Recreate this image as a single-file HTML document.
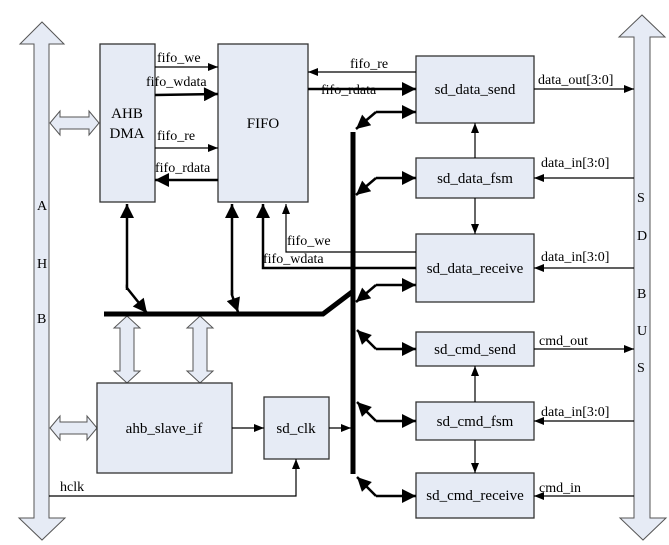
<!DOCTYPE html>
<html><head><meta charset="utf-8"><style>
html,body{margin:0;padding:0;background:#fff}
svg{display:block}
text{font-family:"Liberation Serif",serif;font-size:14px;fill:#000}
.bl{font-size:15px}
.bx{fill:#e6ebf5;stroke:#333;stroke-width:1.3}
.bus{fill:#e6ebf5;stroke:#555;stroke-width:1}
</style></head><body>
<svg width="669" height="545" viewBox="0 0 669 545" xmlns="http://www.w3.org/2000/svg">
<defs>
<marker id="a" viewBox="0 0 10 10" refX="10" refY="5" markerWidth="10" markerHeight="10" markerUnits="userSpaceOnUse" orient="auto"><path d="M0,1 L10,5 L0,9z" fill="#000"/></marker>
<marker id="b" viewBox="0 0 10 10" refX="10" refY="5" markerWidth="16" markerHeight="14" markerUnits="userSpaceOnUse" orient="auto"><path d="M0,0 L10,5 L0,10z" fill="#000"/></marker>
</defs>

<!-- AHB bus -->
<path class="bus" d="M34,44 L20,44 L42,22 L64,44 L49,44 L49,518 L65,518 L42,540 L19,518 L34,518z"/>
<text x="37" y="210">A</text><text x="37" y="268">H</text><text x="37" y="323">B</text>
<!-- SD bus -->
<path class="bus" d="M634,37 L619,37 L642,15 L665,37 L650,37 L650,518 L666,518 L643,540 L620,518 L634,518z"/>
<text x="637" y="202">S</text><text x="637" y="240">D</text><text x="637" y="298">B</text><text x="637" y="335">U</text><text x="637" y="372">S</text>

<!-- horizontal double arrows -->
<path class="bus" d="M50,123 L60,111 L60,117 L89,117 L89,111 L99,123 L89,135 L89,129 L60,129 L60,135z"/>
<path class="bus" d="M50,428 L60,416 L60,422 L87,422 L87,416 L97,428 L87,440 L87,434 L60,434 L60,440z"/>
<!-- vertical double arrows -->
<path class="bus" d="M127,316 L140,328 L134,328 L134,371 L140,371 L127,383 L114,371 L120,371 L120,328 L114,328z"/>
<path class="bus" d="M200,316 L213,328 L207,328 L207,371 L213,371 L200,383 L187,371 L193,371 L193,328 L187,328z"/>

<!-- boxes -->
<rect class="bx" x="100" y="44" width="55" height="158"/>
<text class="bl" x="127" y="118" text-anchor="middle">AHB</text>
<text class="bl" x="127" y="138" text-anchor="middle">DMA</text>
<rect class="bx" x="218" y="44" width="90" height="158"/>
<text class="bl" x="263" y="128" text-anchor="middle">FIFO</text>
<rect class="bx" x="416" y="56" width="118" height="67"/>
<text class="bl" x="475" y="94" text-anchor="middle">sd_data_send</text>
<rect class="bx" x="416" y="158" width="118" height="40"/>
<text class="bl" x="475" y="183" text-anchor="middle">sd_data_fsm</text>
<rect class="bx" x="416" y="234" width="118" height="68"/>
<text class="bl" x="475" y="273" text-anchor="middle">sd_data_receive</text>
<rect class="bx" x="416" y="332" width="118" height="34"/>
<text class="bl" x="475" y="354" text-anchor="middle">sd_cmd_send</text>
<rect class="bx" x="416" y="402" width="118" height="38"/>
<text class="bl" x="475" y="426" text-anchor="middle">sd_cmd_fsm</text>
<rect class="bx" x="416" y="473" width="118" height="45"/>
<text class="bl" x="475" y="500" text-anchor="middle">sd_cmd_receive</text>
<rect class="bx" x="97" y="383" width="135" height="90"/>
<text class="bl" x="164" y="433" text-anchor="middle">ahb_slave_if</text>
<rect class="bx" x="264" y="397" width="65" height="62"/>
<text class="bl" x="296" y="433" text-anchor="middle">sd_clk</text>

<!-- DMA <-> FIFO -->
<g stroke="#000" fill="none">
<line x1="155" y1="67" x2="218" y2="67" stroke-width="1.2" marker-end="url(#a)"/>
<line x1="155" y1="95" x2="218" y2="94" stroke-width="2.5" marker-end="url(#b)"/>
<line x1="155" y1="148" x2="218" y2="148" stroke-width="1.2" marker-end="url(#a)"/>
<line x1="218" y1="180" x2="155" y2="180" stroke-width="2.5" marker-end="url(#b)"/>
<!-- FIFO <-> send -->
<line x1="416" y1="72" x2="308" y2="72" stroke-width="1.2" marker-end="url(#a)"/>
<line x1="308" y1="89" x2="416" y2="89" stroke-width="2.5" marker-end="url(#b)"/>
<!-- receive -> FIFO -->
<polyline points="416,252 286,252 286,204" stroke-width="1.2" marker-end="url(#a)"/>
<polyline points="416,268 263,268 263,204" stroke-width="2.5" marker-end="url(#b)"/>
<!-- main buses -->
<polyline points="104,314 323,314 352,292" stroke-width="5"/>
<line x1="353" y1="132" x2="353" y2="474" stroke-width="5"/>
<!-- DMA bus link -->
<polyline points="127,290 127,288 147,313" stroke-width="2.5" marker-end="url(#b)"/>
<line x1="127" y1="288" x2="127" y2="204" stroke-width="2.5" marker-end="url(#b)"/>
<line x1="232" y1="295" x2="232" y2="204" stroke-width="2.5" marker-end="url(#b)"/>
<polyline points="232,290 232,295 238,312" stroke-width="2.5" marker-end="url(#b)"/>
<!-- bus to right boxes -->
<g stroke-width="2.5">
<polyline points="376,112 416,112" marker-end="url(#b)"/><line x1="376" y1="112" x2="356" y2="129" marker-end="url(#b)"/>
<polyline points="376,178 416,178" marker-end="url(#b)"/><line x1="376" y1="178" x2="356" y2="195" marker-end="url(#b)"/>
<polyline points="376,285 416,285" marker-end="url(#b)"/><line x1="376" y1="285" x2="356" y2="302" marker-end="url(#b)"/>
<polyline points="376,349 416,349" marker-end="url(#b)"/><line x1="376" y1="349" x2="357" y2="330" marker-end="url(#b)"/>
<polyline points="376,421 416,421" marker-end="url(#b)"/><line x1="376" y1="421" x2="357" y2="402" marker-end="url(#b)"/>
<polyline points="376,496 416,496" marker-end="url(#b)"/><line x1="376" y1="496" x2="357" y2="477" marker-end="url(#b)"/>
</g>
<!-- fsm vertical -->
<line x1="475" y1="158" x2="475" y2="123" stroke-width="1.2" marker-end="url(#a)"/>
<line x1="475" y1="198" x2="475" y2="234" stroke-width="1.2" marker-end="url(#a)"/>
<line x1="475" y1="402" x2="475" y2="366" stroke-width="1.2" marker-end="url(#a)"/>
<line x1="475" y1="440" x2="475" y2="473" stroke-width="1.2" marker-end="url(#a)"/>
<!-- SD bus signals -->
<line x1="534" y1="89" x2="634" y2="89" stroke-width="1.2" marker-end="url(#a)"/>
<line x1="634" y1="178" x2="534" y2="178" stroke-width="1.2" marker-end="url(#a)"/>
<line x1="634" y1="268" x2="534" y2="268" stroke-width="1.2" marker-end="url(#a)"/>
<line x1="534" y1="349" x2="634" y2="349" stroke-width="1.2" marker-end="url(#a)"/>
<line x1="634" y1="421" x2="534" y2="421" stroke-width="1.2" marker-end="url(#a)"/>
<line x1="634" y1="496" x2="534" y2="496" stroke-width="1.2" marker-end="url(#a)"/>
<!-- clk -->
<line x1="232" y1="428" x2="264" y2="428" stroke-width="1.2" marker-end="url(#a)"/>
<line x1="329" y1="428" x2="351" y2="428" stroke-width="1.2" marker-end="url(#a)"/>
<polyline points="49,496 296,496 296,459" stroke-width="1.2" marker-end="url(#a)"/>
</g>

<!-- labels -->
<text x="157" y="62">fifo_we</text>
<text x="146" y="86">fifo_wdata</text>
<text x="157" y="140">fifo_re</text>
<text x="155" y="172">fifo_rdata</text>
<text x="350" y="68">fifo_re</text>
<text x="321" y="94">fifo_rdata</text>
<text x="287" y="245">fifo_we</text>
<text x="263" y="263">fifo_wdata</text>
<text x="538" y="84">data_out[3:0]</text>
<text x="541" y="167">data_in[3:0]</text>
<text x="541" y="261">data_in[3:0]</text>
<text x="539" y="345">cmd_out</text>
<text x="541" y="416">data_in[3:0]</text>
<text x="539" y="492">cmd_in</text>
<text x="60" y="491">hclk</text>
</svg>
</body></html>
